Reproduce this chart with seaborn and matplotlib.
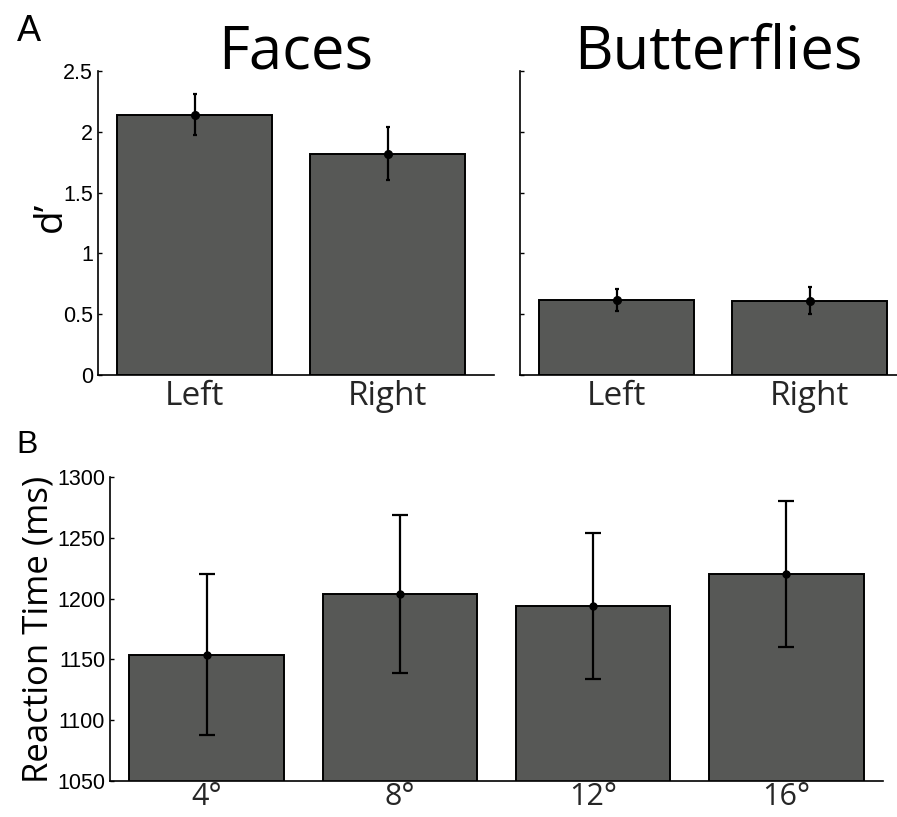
import matplotlib
matplotlib.use("Agg")
import matplotlib.pyplot as plt
import seaborn as sns
import pandas as pd

# Panel A: d' by visual field
sides = ["Left", "Right"]
faces_dprime = [2.14, 1.82]
faces_err = [0.17, 0.22]
butterflies_dprime = [0.62, 0.61]
butterflies_err = [0.09, 0.11]

# Panel B: reaction time by eccentricity
eccentricities = ["4°", "8°", "12°", "16°"]
rt_ms = [1154, 1204, 1194, 1220]
rt_err = [66, 65, 60, 60]

dprime_ticks = [0, 0.5, 1, 1.5, 2, 2.5]
dprime_ticklabels = ["0", "0.5", "1", "1.5", "2", "2.5"]
rt_ticks = [1050, 1100, 1150, 1200, 1250, 1300]

sns.set_theme(style="white")
plt.rcParams["font.family"] = ["Open Sans", "DejaVu Sans"]

BAR = "#575856"
W, H = 897, 817
fig = plt.figure(figsize=(W / 100, H / 100), dpi=100)


def px_axes(x0, x1, ytop, ybot):
    return fig.add_axes([x0 / W, (H - ybot) / H, (x1 - x0) / W, (ybot - ytop) / H])


ax_f = px_axes(98, 494, 71, 375)
ax_b = px_axes(520, 916, 71, 375)
ax_rt = px_axes(110, 883, 477, 781)


def draw_bars(ax, cats, vals, errs, lw, cap, ms):
    df = pd.DataFrame({"cat": cats, "val": vals})
    sns.barplot(data=df, x="cat", y="val", color=BAR, saturation=1,
                width=0.8, errorbar=None, edgecolor="black", linewidth=1.4, ax=ax)
    centers = [p.get_x() + p.get_width() / 2 for p in ax.patches]
    ax.errorbar(centers, vals, yerr=errs, fmt="o", color="black", ecolor="black",
                elinewidth=lw, capsize=cap, capthick=lw, markersize=ms, zorder=5)


def style_axes(ax):
    for s in ("top", "right"):
        ax.spines[s].set_visible(False)
    for s in ("left", "bottom"):
        ax.spines[s].set_color("black")
        ax.spines[s].set_linewidth(1.2)
    ax.tick_params(axis="y", direction="in", length=3, width=1.0, colors="black",
                   pad=3.5, left=True)
    ax.tick_params(axis="x", length=0, pad=3.5)
    ax.set_xlabel("")
    ax.set_ylabel("")
    for lab in ax.get_yticklabels():
        lab.set_fontfamily("Liberation Sans")
        lab.set_fontsize(15.5)
    for lab in ax.get_xticklabels():
        lab.set_fontfamily("Open Sans")
        lab.set_fontsize(24)


draw_bars(ax_f, sides, faces_dprime, faces_err, 1.6, 1.5, 5.5)
draw_bars(ax_b, sides, butterflies_dprime, butterflies_err, 1.6, 1.5, 5.5)
draw_bars(ax_rt, eccentricities, rt_ms, rt_err, 1.6, 5.5, 5)

for ax in (ax_f, ax_b):
    ax.set_xlim(-0.5, 1.55)
    ax.set_ylim(0, 2.5)
    ax.set_yticks(dprime_ticks)

ax_f.set_yticklabels(dprime_ticklabels)
ax_b.set_yticklabels([])
ax_rt.set_xlim(-0.5, 3.5)
ax_rt.set_ylim(1050, 1300)
ax_rt.set_yticks(rt_ticks)
ax_rt.set_yticklabels([str(t) for t in rt_ticks])

for ax in (ax_f, ax_b, ax_rt):
    style_axes(ax)
ax_rt.tick_params(axis="x", pad=1)
for lab in ax_rt.get_xticklabels():
    lab.set_fontsize(22)

ax_f.set_title("Faces", fontsize=43, pad=1.5, color="black")
ax_b.set_title("Butterflies", fontsize=43, pad=1.5, color="black")

ax_f.set_ylabel("d\u2019", fontsize=28, color="black")
ax_f.yaxis.set_label_coords(-0.07, 0.52)
ax_rt.set_ylabel("Reaction Time (ms)", fontsize=25, color="black")
ax_rt.yaxis.set_label_coords(-0.07, 0.5)

fig.text(17 / W, (H - 41) / H, "A", fontsize=26, family="Liberation Sans",
         color="black", va="baseline", ha="left")
fig.text(16 / W, (H - 453) / H, "B", fontsize=23, family="Liberation Sans",
         color="black", va="baseline", ha="left")

fig.savefig("out.png", dpi=100, facecolor="white")
